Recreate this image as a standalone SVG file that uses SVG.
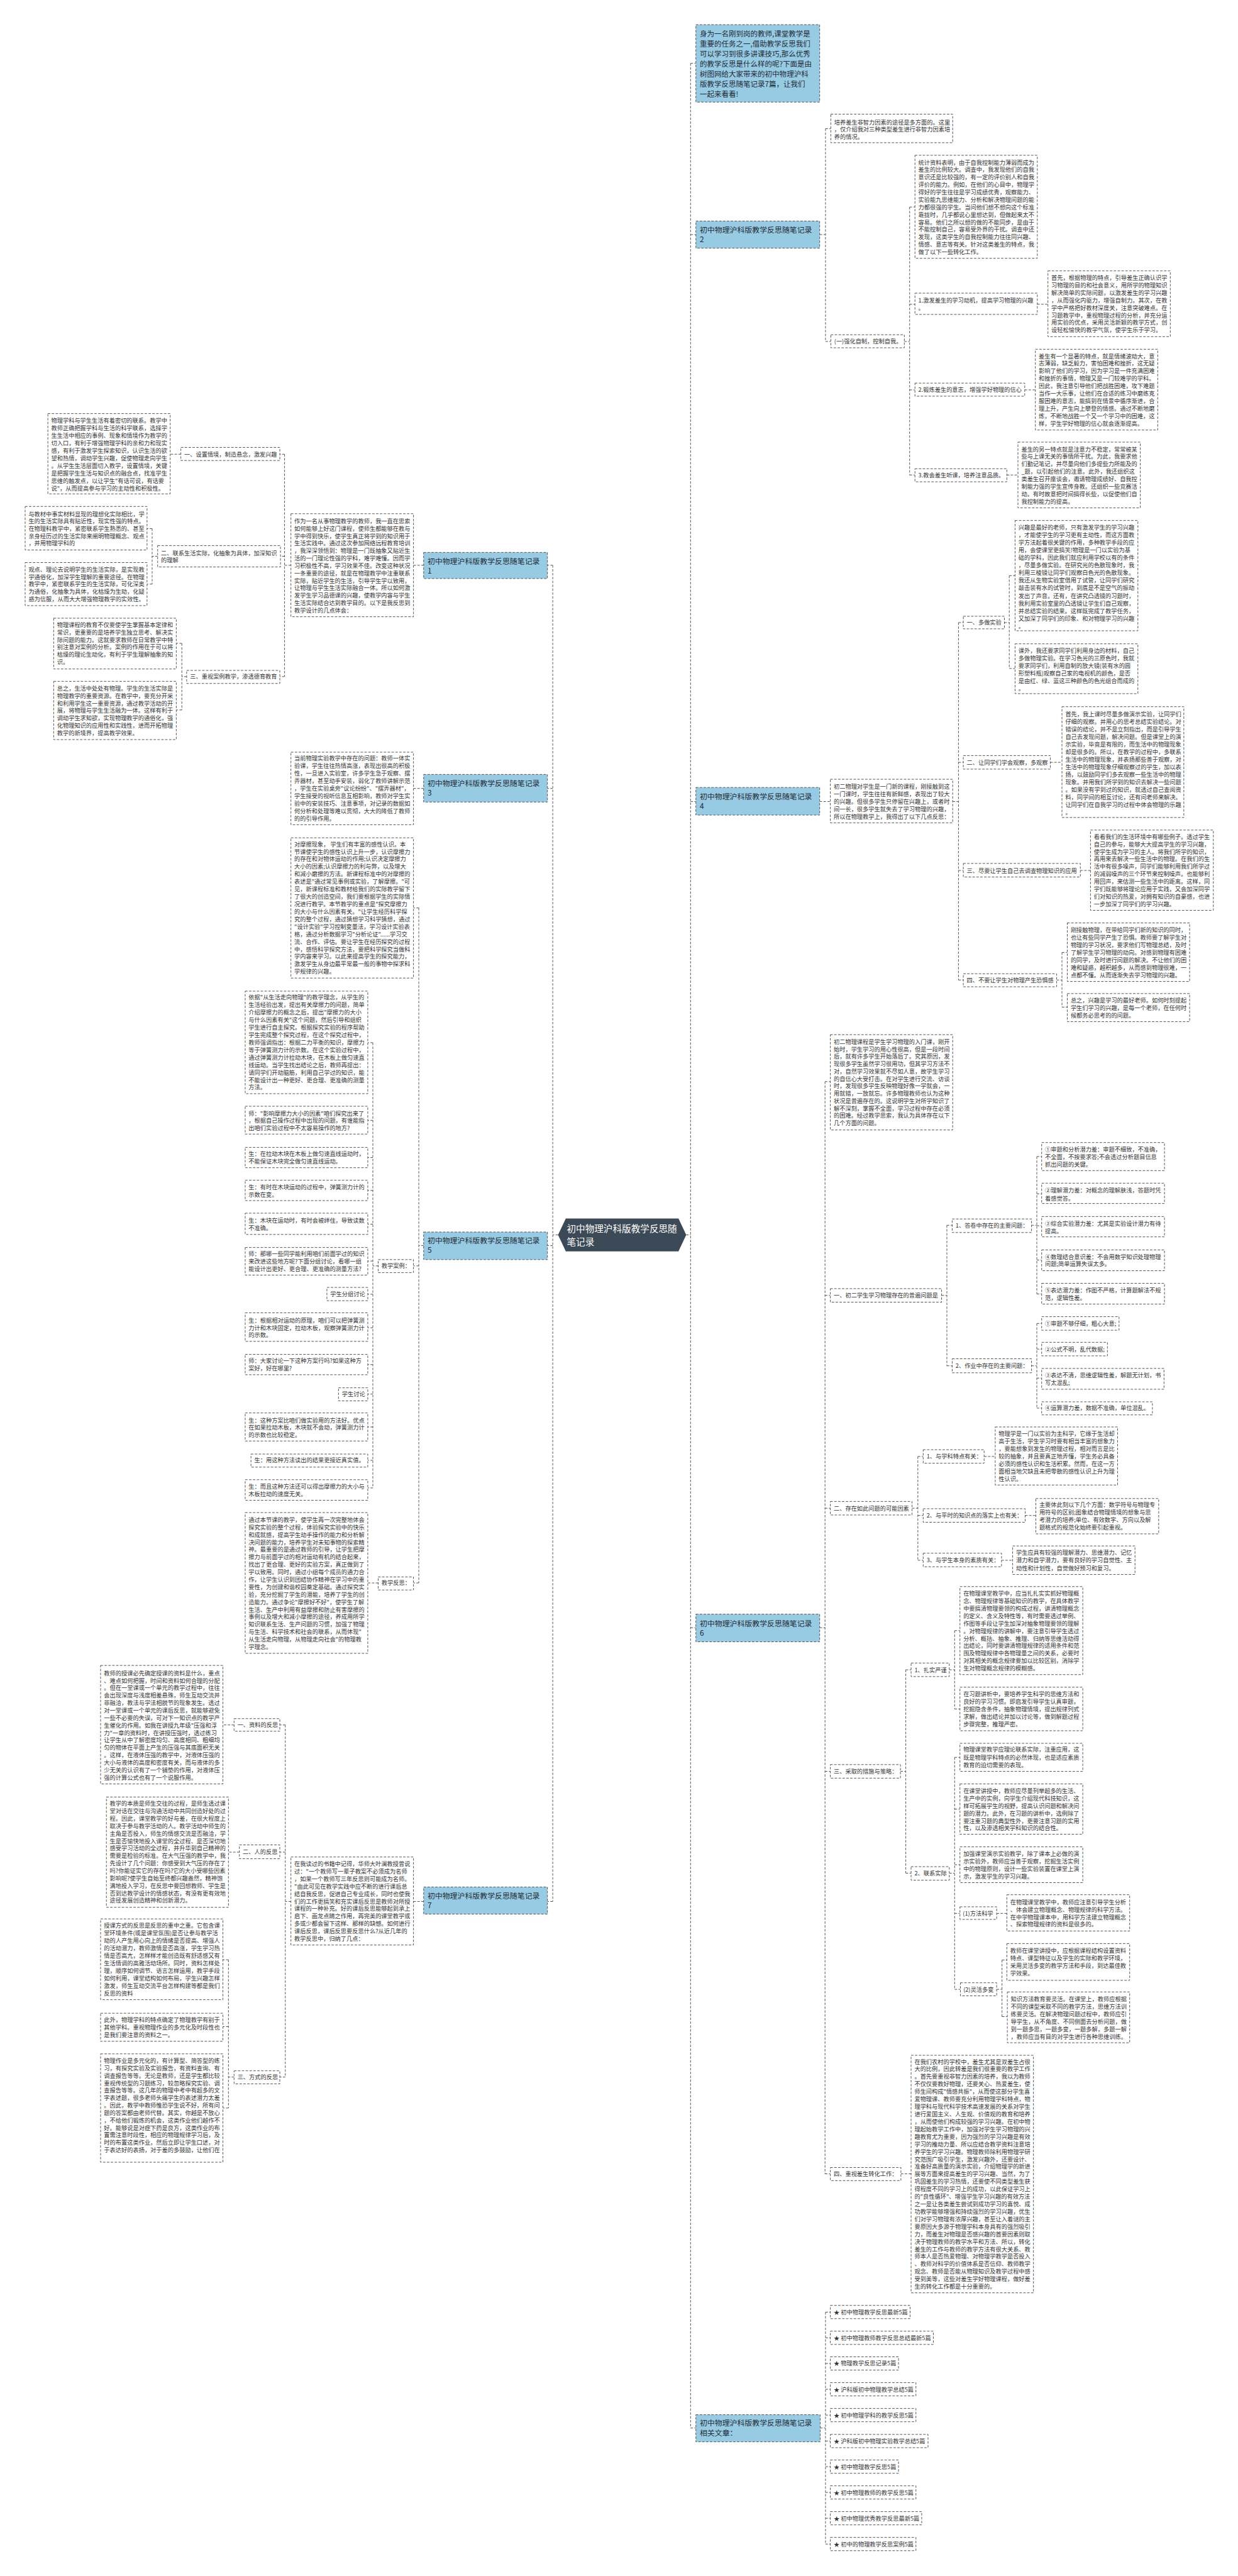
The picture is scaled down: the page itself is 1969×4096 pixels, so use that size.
<svg xmlns="http://www.w3.org/2000/svg" width="1969" height="4096" viewBox="0 0 1969 4096">
<style>
.r{fill:#fff;stroke:#555;stroke-width:1.3;stroke-dasharray:5 3}
.bl{fill:#97cbe3;stroke:#555;stroke-width:1.3;stroke-dasharray:5 3}
.t{font-family:"Noto Sans CJK SC","Noto Sans",sans-serif;font-size:12px;fill:#333}
.tb{font-family:"Noto Sans CJK SC","Noto Sans",sans-serif;font-size:15.5px;fill:#1f2a33}
.tc{font-family:"Noto Sans CJK SC","Noto Sans",sans-serif;font-size:19px;fill:#fff}
.cn path{fill:none;stroke:#555;stroke-width:1.3;stroke-dasharray:5 3}
</style>
<rect width="1969" height="4096" fill="#fff"/>
<g transform="scale(0.76914)">
<g class="cn" id="connectors">
<path d="M1419,2553H1428M1428,131V5019.5M1154,2553H1143M1143,1168.6V3931"/>
<path d="M1428,131H1439M1428,485H1439M1695,485H1707M1707,266V706M1707,266H1718M1707,706H1718M1870,706H1881M1881,428V982M1881,428H1892M1881,629H1892M1881,806H1892M1881,982H1892M2145,629H2167M2119,806H2141M2082,982H2105"/>
<path d="M1428,1657H1439M1695,1657H1717M1970,1657H1982M1982,1287V2026M1982,1287H1992M1982,1576H1992M1982,1799.5H1992M1982,2026H1992M2077,1287H2087M2087,1190V1382M2087,1190H2099M2087,1382H2099M2172,1576H2196M2234,1799.5H2255M2185,2026H2196M2196,1969V2082M2196,1969H2207M2196,2082H2207"/>
<path d="M1428,3365H1439M1695,3365H1706M1706,2236V4494M1706,2236H1717M1706,2678H1717M1706,3118H1717M1706,3662H1717M1706,4494H1717M1947,2678H1958M1958,2533V2823.6M1958,2533H1969M1958,2823.6H1969M2133,2533H2144M2144,2391V2675M2144,2391H2154M2144,2468H2154M2144,2534H2154M2144,2605H2154M2144,2675H2154M2133,2823.6H2144M2144,2736V2911M2144,2736H2154M2144,2789H2154M2144,2849H2154M2144,2911H2154"/>
<path d="M1886,3118H1898M1898,3011V3225.6M1898,3011H1909M1898,3133H1909M1898,3225.6H1909M2035,3011H2058M2120,3133H2142M2071,3225.6H2094M1862,3662H1873M1873,3452V3872.5M1873,3452H1884M1873,3872.5H1884M1963,3452H1974M1974,3371V3533M1974,3371H1985M1974,3533H1985M1963,3872.5H1974M1974,3633V4112.6M1974,3633H1985M1974,3740H1985M1974,3855H1985M1974,3955.6H1985M1974,4112.6H1986M2061,3955.6H2082M2061,4112.6H2072M2072,4052V4169M2072,4052H2082M2072,4169H2083M1863,4494H1884"/>
<path d="M1428,5019.5H1439M1696,5019.5H1707M1707,4780V5259.4M1707,4780H1717M1707,4833H1717M1707,4886H1717M1707,4939.4H1717M1707,4992.8H1717M1707,5046.4H1717M1707,5099.4H1717M1707,5152.7H1717M1707,5206H1717M1707,5259.4H1717"/>
<path d="M1143,1168.6H1132M876,1168.6H855M601.6,1168.6H588.4M588.4,939V1398.8M588.4,939H578.6M588.4,1150H580M588.4,1398.8H578.6M374,939H352M326,1150H314.6M314.6,1092.8V1207.6M314.6,1092.8H304M314.6,1207.6H304M386,1398.8H376M376,1330V1467.7M376,1330H364.5M376,1467.7H364.5"/>
<path d="M1143,1630H1132M876,1630H855"/>
<path d="M1143,2575H1132M876,2575H866M866,1877V3272.5M866,1877H855M866,2617H855M866,3272.5H855M782,2617H771M771,2155.6V3076M771,2155.6H760.5M771,2316H760.5M771,2393H760.5M771,2461H760.5M771,2530.7H760.5M771,2607H760.5M771,2675.5H760.5M771,2745H760.5M771,2821H760.5M771,2882H760.5M771,2950H760.5M771,3019H760.5M771,3076H760.5M782,3272.5H760.5"/>
<path d="M1143,3931H1132M876,3931H855M601.6,3931H590M590,3566V4294M590,3566H578.6M590,3829H578.6M590,4294H578.6M484,3566H461M495,3829H472.4M484,4294H472.4M472.4,4051.5V4358M472.4,4051.5H461M472.4,4189.7H461M472.4,4358H461"/>
</g>

<g id="center"><polygon points="1154,2553 1170,2519 1403,2519 1419,2553 1403,2587 1170,2587" fill="#3b4a56"/><text class="tc"><tspan x="1172" y="2547">初中物理沪科版教学反思随</tspan><tspan x="1172" y="2574">笔记录</tspan></text></g>

<g id="n_intro"><rect class="bl" x="1439" y="51" width="256" height="160"/><text class="tb" style="font-size:15px"><tspan x="1447" y="75.5">身为一名刚到岗的教师,课堂教学是</tspan><tspan x="1447" dy="20.8">重要的任务之一,借助教学反思我们</tspan><tspan x="1447" dy="20.8">可以学习到很多讲课技巧,那么优秀</tspan><tspan x="1447" dy="20.8">的教学反思是什么样的呢?下面是由</tspan><tspan x="1447" dy="20.8">树图网给大家带来的初中物理沪科</tspan><tspan x="1447" dy="20.8">版教学反思随笔记录7篇，让我们</tspan><tspan x="1447" dy="20.8">一起来看看!</tspan></text></g>

<g id="b2"><rect class="bl" x="1439" y="457" width="256" height="56"/><text class="tb"><tspan x="1447" y="481.7">初中物理沪科版教学反思随笔记录</tspan><tspan x="1447" dy="19.5">2</tspan></text></g>
<g id="n_r2a"><rect class="r" x="1718" y="236" width="252" height="59"/><text class="t"><tspan x="1725" y="257">培养差生非智力因素的途径是多方面的。这里</tspan><tspan x="1725" dy="15">，仅介绍我对三种类型差生进行非智力因素培</tspan><tspan x="1725" dy="15">养的情况。</tspan></text></g>
<g id="n_r2b"><rect class="r" x="1718" y="692" width="152" height="27"/><text class="t" x="1725" y="710.5">(一)强化自制，控制自我。</text></g>
<g id="n_r2b1"><rect class="r" x="1892" y="321" width="253" height="213"/><text class="t"><tspan x="1899" y="340">统计资料表明，由于自我控制能力薄弱而成为</tspan><tspan x="1899" dy="15.45">差生的比例较大。调查中，我发现他们的自我</tspan><tspan x="1899" dy="15.45">意识还是比较强的，有一定的评价别人和自我</tspan><tspan x="1899" dy="15.45">评价的能力。例如，在他们的心目中，物理学</tspan><tspan x="1899" dy="15.45">得好的学生往往是学习成绩优秀，观察能力、</tspan><tspan x="1899" dy="15.45">实验能九思维能力、分析和解决物理问题的能</tspan><tspan x="1899" dy="15.45">力都很强的学生。当问他们想不想向这个标准</tspan><tspan x="1899" dy="15.45">靠拢时，几乎都说心里想达到，但做起来太不</tspan><tspan x="1899" dy="15.45">容易。他们之所以想的做的不能同步，是由于</tspan><tspan x="1899" dy="15.45">不能控制自己，容易受外界的干扰。调查中还</tspan><tspan x="1899" dy="15.45">发现，这类学生的自我控制能力往往同兴趣、</tspan><tspan x="1899" dy="15.45">情感、意志等有关。针对这类差生的特点，我</tspan><tspan x="1899" dy="15.45">做了以下一些转化工作。</tspan></text></g>
<g id="n_r2b2"><rect class="r" x="1892" y="606" width="253" height="44"/><text class="t"><tspan x="1899" y="625.5">1.激发差生的学习动机，提高学习物理的兴趣</tspan><tspan x="1899" dy="16">。</tspan></text></g>
<g id="n_r2b2c"><rect class="r" x="2167" y="560" width="253" height="136"/><text class="t"><tspan x="2174" y="579">首先，根据物理的特点，引导差生正确认识学</tspan><tspan x="2174" dy="15.4">习物理的目的和社会意义，用所学的物理知识</tspan><tspan x="2174" dy="15.4">解决简单的实际问题，以激发差生的学习兴趣</tspan><tspan x="2174" dy="15.4">，从而强化内驱力，增强自制力。其次，在教</tspan><tspan x="2174" dy="15.4">学中严格把好教材深度关，注意突破难点。在</tspan><tspan x="2174" dy="15.4">习题教学中，重视物理过程的分析，并充分运</tspan><tspan x="2174" dy="15.4">用实验的优点，采用灵活新颖的教学方式，创</tspan><tspan x="2174" dy="15.4">设轻松愉快的教学气氛，使学生乐于学习。</tspan></text></g>
<g id="n_r2b3"><rect class="r" x="1892" y="792" width="227" height="27"/><text class="t" x="1899" y="810.5">2.锻炼差生的意志，增强学好物理的信心</text></g>
<g id="n_r2b3c"><rect class="r" x="2141" y="722" width="253" height="167"/><text class="t"><tspan x="2148" y="740.5">差生有一个显著的特点，就是情绪波动大，意</tspan><tspan x="2148" dy="15.5">志薄弱，缺乏毅力，害怕困难和挫折，这无疑</tspan><tspan x="2148" dy="15.5">影响了他们的学习，因为学习是一件充满困难</tspan><tspan x="2148" dy="15.5">和挫折的事情，物理又是一门较难学的学科。</tspan><tspan x="2148" dy="15.5">因此，我注意引导他们把战胜困难，攻下难题</tspan><tspan x="2148" dy="15.5">当作一大乐事，让他们在合适的练习中磨练克</tspan><tspan x="2148" dy="15.5">服困难的意志，能搞到在情景中循序渐进，合</tspan><tspan x="2148" dy="15.5">理上升，产生向上攀登的情感。通过不断地磨</tspan><tspan x="2148" dy="15.5">炼，不断地战胜一个又一个学习中的困难，这</tspan><tspan x="2148" dy="15.5">样，学生学好物理的信心就会逐渐提高。</tspan></text></g>
<g id="n_r2b4"><rect class="r" x="1892" y="969" width="190" height="27"/><text class="t" x="1899" y="986.5">3.教会差生听课，培养注意品质。</text></g>
<g id="n_r2b4c"><rect class="r" x="2105" y="914" width="253" height="136"/><text class="t"><tspan x="2112" y="933">差生的另一特点就是注意力不稳定，常常被某</tspan><tspan x="2112" dy="15.4">些与上课无关的事情所干扰。为此，我要求他</tspan><tspan x="2112" dy="15.4">们勤记笔记，并尽量向他们多提些力所能及的</tspan><tspan x="2112" dy="15.4">_题，以引起他们的注意。此外，我还组织这</tspan><tspan x="2112" dy="15.4">类差生召开座谈会，邀请物理成绩好、自我控</tspan><tspan x="2112" dy="15.4">制能力强的学生宣传身教。还组织一些竞赛活</tspan><tspan x="2112" dy="15.4">动。有时故意把时间搞得长些，以促使他们自</tspan><tspan x="2112" dy="15.4">我控制能力的提高。</tspan></text></g>

<g id="b4"><rect class="bl" x="1439" y="1628" width="256" height="57"/><text class="tb"><tspan x="1447" y="1652.7">初中物理沪科版教学反思随笔记录</tspan><tspan x="1447" dy="19.5">4</tspan></text></g>
<g id="n_r4p"><rect class="r" x="1717" y="1611" width="253" height="90"/><text class="t"><tspan x="1724" y="1630.5">初二物理对学生是一门新的课程，刚接触到这</tspan><tspan x="1724" dy="15.7">一门课时，学生往往有新鲜感，表现出了较大</tspan><tspan x="1724" dy="15.7">的兴趣。但很多学生只停留在兴趣上，或者时</tspan><tspan x="1724" dy="15.7">间一长，很多学生就失去了学习物理的兴趣，</tspan><tspan x="1724" dy="15.7">所以在物理教学上，我得出了以下几点反思：</tspan></text></g>
<g id="n_r4_1"><rect class="r" x="1992" y="1274" width="85" height="26"/><text class="t" x="1999" y="1291.5">一、多做实验</text></g>
<g id="n_r4_1a"><rect class="r" x="2099" y="1076" width="254" height="228"/><text class="t"><tspan x="2106" y="1094.5">兴趣是最好的老师，只有激发学生的学习兴趣</tspan><tspan x="2106" dy="15.7">，才能使学生的学习更有主动性，而这方面教</tspan><tspan x="2106" dy="15.7">学方法起着很关键的作用，多种教学手段的应</tspan><tspan x="2106" dy="15.7">用，会使课堂更搞笑!物理是一门以实验为基</tspan><tspan x="2106" dy="15.7">础的学科，因此我们就应利用学校以有的条件</tspan><tspan x="2106" dy="15.7">，尽量多做实验。在研究光的色散现象时，我</tspan><tspan x="2106" dy="15.7">利用三棱镜让同学们观察白色光的色散现象。</tspan><tspan x="2106" dy="15.7">我还从生物实验室借用了试管，让同学们研究</tspan><tspan x="2106" dy="15.7">敲击装有水的试管时，到底是不是空气的振动</tspan><tspan x="2106" dy="15.7">发出了声音。还有，在讲究凸透镜的习题时，</tspan><tspan x="2106" dy="15.7">我利用实验室里的凸透镜让学生们自己观察，</tspan><tspan x="2106" dy="15.7">并总结实验的结果。这样既完成了教学任务，</tspan><tspan x="2106" dy="15.7">又加深了同学们的印象、和对物理学习的兴趣</tspan><tspan x="2106" dy="15.7">。</tspan></text></g>
<g id="n_r4_1b"><rect class="r" x="2099" y="1331" width="254" height="103"/><text class="t"><tspan x="2106" y="1350">课外，我还要求同学们利用身边的材料，自己</tspan><tspan x="2106" dy="15.5">多做物理实验。在学习色光的三原色时，我就</tspan><tspan x="2106" dy="15.5">要求同学们，利用自制的放大镜(装有水的圆</tspan><tspan x="2106" dy="15.5">形塑料瓶)观察自己家的电视机的颜色，是否</tspan><tspan x="2106" dy="15.5">是由红、绿、蓝这三种颜色的色光组合而成的</tspan><tspan x="2106" dy="15.5">。</tspan></text></g>
<g id="n_r4_2"><rect class="r" x="1992" y="1562" width="180" height="28"/><text class="t" x="1999" y="1580.5">二、让同学们学会观察，多观察</text></g>
<g id="n_r4_2a"><rect class="r" x="2196" y="1461" width="252" height="229"/><text class="t"><tspan x="2203" y="1480.5">首先，我上课时尽量多做演示实验，让同学们</tspan><tspan x="2203" dy="15.6">仔细的观察。并用心的思考总结实验结论。对</tspan><tspan x="2203" dy="15.6">错误的结论，并不是立刻指出，而是引导学生</tspan><tspan x="2203" dy="15.6">自己去发现问题，解决问题。但是课堂上的演</tspan><tspan x="2203" dy="15.6">示实验，毕竟是有限的，而生活中的物理现象</tspan><tspan x="2203" dy="15.6">却是很多的。所以，在教学的过程中，多联系</tspan><tspan x="2203" dy="15.6">生活中的物理现象，并表扬那些善于观察，对</tspan><tspan x="2203" dy="15.6">生活中的物理现象仔细观察过的学生，加以表</tspan><tspan x="2203" dy="15.6">扬，以鼓励同学们多去观察一些生活中的物理</tspan><tspan x="2203" dy="15.6">现象。并用我们所学到的知识去解决一些问题</tspan><tspan x="2203" dy="15.6">。如果没有学到过的知识，就透过自己查阅资</tspan><tspan x="2203" dy="15.6">料，同学间的相互讨论，还有问老师来解决。</tspan><tspan x="2203" dy="15.6">让同学们在自我学习的过程中体会物理的乐趣</tspan><tspan x="2203" dy="15.6">。</tspan></text></g>
<g id="n_r4_3"><rect class="r" x="1992" y="1785" width="242" height="28"/><text class="t" x="1999" y="1804">三、尽要让学生自己去调查物理知识的应用</text></g>
<g id="n_r4_3a"><rect class="r" x="2255" y="1716" width="254" height="166"/><text class="t"><tspan x="2262" y="1734">看看我们的生活环境中有哪些例子。透过学生</tspan><tspan x="2262" dy="15.5">自己的参与，能够大大提高学生的学习兴趣，</tspan><tspan x="2262" dy="15.5">使学生成为学习的主人。将我们所学的知识，</tspan><tspan x="2262" dy="15.5">再用来去解决一些生活中的物理。在我们的生</tspan><tspan x="2262" dy="15.5">活中有很多噪声，同学们能够利用我们所学过</tspan><tspan x="2262" dy="15.5">的减弱噪声的三个环节来控制噪声。也能够利</tspan><tspan x="2262" dy="15.5">用回声，来估测一些生活中的距离。这样，同</tspan><tspan x="2262" dy="15.5">学们既能够将理论应用于实践，又会加深同学</tspan><tspan x="2262" dy="15.5">们对知识的热爱，对拥有知识的自豪感，也进</tspan><tspan x="2262" dy="15.5">一步加深了同学们的学习兴趣。</tspan></text></g>
<g id="n_r4_4"><rect class="r" x="1992" y="2013" width="193" height="27"/><text class="t" x="1999" y="2030.5">四、不要让学生对物理产生恐惧感</text></g>
<g id="n_r4_4a"><rect class="r" x="2207" y="1908" width="253" height="121"/><text class="t"><tspan x="2214" y="1926.5">刚接触物理，在带给同学们新的知识的同时，</tspan><tspan x="2214" dy="15.6">也让有些同学产生了恐惧。教师要了解学生对</tspan><tspan x="2214" dy="15.6">物理的学习状况，要求他们写物理总结，及时</tspan><tspan x="2214" dy="15.6">了解学生学习物理的动向。对感到物理有困难</tspan><tspan x="2214" dy="15.6">的同学，及时进行问题的解决。不让他们的困</tspan><tspan x="2214" dy="15.6">难和疑惑，越积越多，从而感到物理很难，一</tspan><tspan x="2214" dy="15.6">点都不懂。从而逐渐失去学习物理的兴趣。</tspan></text></g>
<g id="n_r4_4b"><rect class="r" x="2207" y="2054" width="253" height="58"/><text class="t"><tspan x="2214" y="2073">总之，兴趣是学习的最好老师。如何时刻提起</tspan><tspan x="2214" dy="15.3">学生们学习的兴趣，是每一个老师，在任何时</tspan><tspan x="2214" dy="15.3">候都务必思考的的问题。</tspan></text></g>

<g id="b6"><rect class="bl" x="1439" y="3337" width="256" height="57"/><text class="tb"><tspan x="1447" y="3361.7">初中物理沪科版教学反思随笔记录</tspan><tspan x="1447" dy="19.5">6</tspan></text></g>
<g id="n_r6p"><rect class="r" x="1717" y="2139" width="253" height="197"/><text class="t"><tspan x="1724" y="2158">初二物理课程是学生学习物理的入门课，刚开</tspan><tspan x="1724" dy="15.3">始时，学生学习的用心性很高，但是一段时间</tspan><tspan x="1724" dy="15.3">后，就有许多学生开始落后了。究其原因，发</tspan><tspan x="1724" dy="15.3">现很多学生虽然学习很用功，但其学习方法不</tspan><tspan x="1724" dy="15.3">对，自然学习效果就不尽如人意，故学生学习</tspan><tspan x="1724" dy="15.3">的自信心大受打击。在对学生进行交流、访谈</tspan><tspan x="1724" dy="15.3">时，发现很多学生反映物理好像一学就会，一</tspan><tspan x="1724" dy="15.3">用就错，一放就忘。许多物理教师也认为这种</tspan><tspan x="1724" dy="15.3">状况是普遍存在的。这说明学生对所学知识了</tspan><tspan x="1724" dy="15.3">解不深刻，掌握不全面，学习过程中存在必须</tspan><tspan x="1724" dy="15.3">的困难。经过教学思索，我认为具体存在以下</tspan><tspan x="1724" dy="15.3">几个方面的问题。</tspan></text></g>
<g id="n_r6_1"><rect class="r" x="1717" y="2664" width="230" height="28"/><text class="t" x="1724" y="2682.5">一、初二学生学习物理存在的普遍问题是</text></g>
<g id="n_r6_1_1"><rect class="r" x="1969" y="2520" width="164" height="28"/><text class="t" x="1976" y="2537.5">1、答卷中存在的主要问题：</text></g>
<g id="n_q1"><rect class="r" x="2154" y="2362" width="254" height="58"/><text class="t"><tspan x="2161" y="2381">①审题和分析潜力差：审题不细致，不准确，</tspan><tspan x="2161" dy="15.2">不全面，不按要求答;不会透过分析题目信息</tspan><tspan x="2161" dy="15.2">抓出问题的关键。</tspan></text></g>
<g id="n_q2"><rect class="r" x="2154" y="2446" width="254" height="42"/><text class="t"><tspan x="2161" y="2465.5">②理解潜力差：对概念的理解肤浅，答题时凭</tspan><tspan x="2161" dy="16">着感觉答。</tspan></text></g>
<g id="n_q3"><rect class="r" x="2154" y="2515" width="254" height="42"/><text class="t"><tspan x="2161" y="2534">③综合实验潜力差：尤其是实验设计潜力有待</tspan><tspan x="2161" dy="15.3">提高。</tspan></text></g>
<g id="n_q4"><rect class="r" x="2154" y="2584" width="254" height="43"/><text class="t"><tspan x="2161" y="2602.5">④数理结合意识差：不会用数学知识处理物理</tspan><tspan x="2161" dy="15">问题;简单运算失误太多。</tspan></text></g>
<g id="n_q5"><rect class="r" x="2154" y="2653" width="254" height="43"/><text class="t"><tspan x="2161" y="2671.5">⑤表达潜力差：作图不严格，计算题解法不规</tspan><tspan x="2161" dy="15.5">范，逻辑性差。</tspan></text></g>
<g id="n_r6_1_2"><rect class="r" x="1969" y="2809" width="164" height="29"/><text class="t" x="1976" y="2828">2、作业中存在的主要问题：</text></g>
<g id="n_w1"><rect class="r" x="2154" y="2722" width="160" height="28"/><text class="t" x="2161" y="2740.5">①审题不够仔细，粗心大意;</text></g>
<g id="n_w2"><rect class="r" x="2154" y="2775" width="136" height="28"/><text class="t" x="2161" y="2793.5">②公式不明，乱代数据;</text></g>
<g id="n_w3"><rect class="r" x="2154" y="2829" width="253" height="43"/><text class="t"><tspan x="2161" y="2847">③表达不清，思维逻辑性差，解题无计划，书</tspan><tspan x="2161" dy="15.5">写太混乱;</tspan></text></g>
<g id="n_w4"><rect class="r" x="2154" y="2898" width="229" height="27"/><text class="t" x="2161" y="2915.5">④运算潜力差，数据不准确，单位混乱。</text></g>
<g id="n_r6_2"><rect class="r" x="1717" y="3104" width="169" height="28"/><text class="t" x="1724" y="3122.5">二、存在如此问题的可能因素</text></g>
<g id="n_f1"><rect class="r" x="1909" y="2997" width="126" height="28"/><text class="t" x="1916" y="3015.5">1、与学科特点有关：</text></g>
<g id="n_f1c"><rect class="r" x="2058" y="2950" width="253" height="120"/><text class="t"><tspan x="2065" y="2968.5">物理学是一门以实验为主科学，它缘于生活却</tspan><tspan x="2065" dy="15.5">高于生活，学生学习时要有相当丰富的想象力</tspan><tspan x="2065" dy="15.5">，要能想象到发生的物理过程，相对而言是比</tspan><tspan x="2065" dy="15.5">较的抽象，并且要真正地弄懂，学生务必具备</tspan><tspan x="2065" dy="15.5">必须的感性认识和生活积累。然而，在这一方</tspan><tspan x="2065" dy="15.5">面相当地欠缺且未把零散的感性认识上升为理</tspan><tspan x="2065" dy="15.5">性认识。</tspan></text></g>
<g id="n_f2"><rect class="r" x="1909" y="3119" width="211" height="28"/><text class="t" x="1916" y="3137.5">2、与平时的知识点的落实上也有关：</text></g>
<g id="n_f2c"><rect class="r" x="2142" y="3098" width="254" height="73"/><text class="t"><tspan x="2149" y="3115.5">主要体此刻以下几个方面：数学符号与物理专</tspan><tspan x="2149" dy="15.3">用符号的区别;图象结合物理情境的想象与思</tspan><tspan x="2149" dy="15.3">考潜力的培养;单位、有效数字、方向以及解</tspan><tspan x="2149" dy="15.3">题格式的规范化始终要引起重视。</tspan></text></g>
<g id="n_f3"><rect class="r" x="1909" y="3211" width="162" height="28"/><text class="t" x="1916" y="3230">3、与学生本身的素质有关：</text></g>
<g id="n_f3c"><rect class="r" x="2094" y="3196" width="253" height="59"/><text class="t"><tspan x="2101" y="3214.5">学生应具有较强的理解潜力、思维潜力、记忆</tspan><tspan x="2101" dy="15.7">潜力和自学潜力，要有良好的学习自觉性、主</tspan><tspan x="2101" dy="15.7">动性和计划性，自觉做好预习和复习。</tspan></text></g>
<g id="n_r6_3"><rect class="r" x="1717" y="3648" width="145" height="28"/><text class="t" x="1724" y="3666.5">三、采取的措施与策略：</text></g>
<g id="n_s1"><rect class="r" x="1884" y="3438" width="79" height="28"/><text class="t" x="1891" y="3456.5">1、扎实严谨</text></g>
<g id="n_s1a"><rect class="r" x="1985" y="3280" width="254" height="182"/><text class="t"><tspan x="1992" y="3298.5">在物理课堂教学中，应当扎扎实实抓好物理概</tspan><tspan x="1992" dy="15.5">念、物理规律等基础知识的教学，在具体教学</tspan><tspan x="1992" dy="15.5">中要搞清物理要领的构成过程，讲清物理概念</tspan><tspan x="1992" dy="15.5">的定义、含义及特性等，有时需要透过举例、</tspan><tspan x="1992" dy="15.5">作图等手段让学生加深对抽象物理要领的理解</tspan><tspan x="1992" dy="15.5">。对物理规律的讲解中，要注意引导学生透过</tspan><tspan x="1992" dy="15.5">分析、概括、抽象、推理、归纳等思维活动得</tspan><tspan x="1992" dy="15.5">出结论，同时要讲清物理规律的适用条件和范</tspan><tspan x="1992" dy="15.5">围及物理规律中各物理量之间的关系，必要时</tspan><tspan x="1992" dy="15.5">对其相关的概念规律要加以比较区别，消除学</tspan><tspan x="1992" dy="15.5">生对物理概念规律的模糊感。</tspan></text></g>
<g id="n_s1b"><rect class="r" x="1985" y="3488" width="254" height="90"/><text class="t"><tspan x="1992" y="3507">在习题讲析中，要培养学生科学的思维方法和</tspan><tspan x="1992" dy="15.4">良好的学习习惯。即启发引导学生认真审题，</tspan><tspan x="1992" dy="15.4">挖掘隐含条件，抽象物理情境，提出规律列式</tspan><tspan x="1992" dy="15.4">求解，做出结论并加以讨论等，做到解题过程</tspan><tspan x="1992" dy="15.4">步骤完整，推理严密。</tspan></text></g>
<g id="n_s2"><rect class="r" x="1884" y="3859" width="79" height="28"/><text class="t" x="1891" y="3877">2、联系实际</text></g>
<g id="n_s2a"><rect class="r" x="1985" y="3604" width="254" height="58"/><text class="t"><tspan x="1992" y="3621.5">物理课堂教学应理论联系实际，注重应用，这</tspan><tspan x="1992" dy="16">既是物理学科特点的必然体现，也是适应素质</tspan><tspan x="1992" dy="16">教育的迫切需要的表现。</tspan></text></g>
<g id="n_s2b"><rect class="r" x="1985" y="3688" width="254" height="104"/><text class="t"><tspan x="1992" y="3706.5">在课堂讲授中，教师应尽量列举超多的生活、</tspan><tspan x="1992" dy="15.5">生产中的实例，向学生介绍现代科技知识，这</tspan><tspan x="1992" dy="15.5">样可拓展学生的视野，提高认识问题和解决问</tspan><tspan x="1992" dy="15.5">题的潜力。此外，在习题的讲析中，选例除了</tspan><tspan x="1992" dy="15.5">要注重习题的典型性外，更要注意习题的实用</tspan><tspan x="1992" dy="15.5">性，以及渗透相关学科知识的结合性。</tspan></text></g>
<g id="n_s2c"><rect class="r" x="1985" y="3818" width="254" height="74"/><text class="t"><tspan x="1992" y="3837">加强课堂演示实验教学，除了课本上必做的演</tspan><tspan x="1992" dy="15.4">示实验外，教师应当善于观察，挖掘生活实例</tspan><tspan x="1992" dy="15.4">中的物理原则，设计一些实验装置在课堂上演</tspan><tspan x="1992" dy="15.4">示，激发学生的学习兴趣。</tspan></text></g>
<g id="n_s2d"><rect class="r" x="1985" y="3942" width="76" height="26"/><text class="t" x="1991" y="3960">(1)方法科学</text></g>
<g id="n_s2dc"><rect class="r" x="2082" y="3917" width="254" height="75"/><text class="t"><tspan x="2089" y="3937">在物理课堂教学中，教师应注意引导学生分析</tspan><tspan x="2089" dy="15.3">、体会建立物理概念、物理规律的科学方法。</tspan><tspan x="2089" dy="15.3">在中学物理课本中，用科学方法建立物理概念</tspan><tspan x="2089" dy="15.3">、探索物理规律的资料是很多的。</tspan></text></g>
<g id="n_s2e"><rect class="r" x="1986" y="4099" width="75" height="27"/><text class="t" x="1992" y="4117">(2)灵活多变</text></g>
<g id="n_s2e1"><rect class="r" x="2082" y="4018" width="254" height="76"/><text class="t"><tspan x="2089" y="4037.5">教师在课堂讲授中，应根据课程结构设置资料</tspan><tspan x="2089" dy="15.3">特点、课型特征以及学生的实际和教学环境，</tspan><tspan x="2089" dy="15.3">采用灵活多变的教学方法和手段，到达最佳教</tspan><tspan x="2089" dy="15.3">学效果。</tspan></text></g>
<g id="n_s2e2"><rect class="r" x="2083" y="4118" width="253" height="105"/><text class="t"><tspan x="2090" y="4136.5">知识方法教育要灵活。在课堂上，教师应根据</tspan><tspan x="2090" dy="15.6">不同的课型采取不同的教学方法，思维方法训</tspan><tspan x="2090" dy="15.6">练要灵活。在解决物理问题过程中，教师应引</tspan><tspan x="2090" dy="15.6">导学生，从不角度、不同侧面去分析问题，做</tspan><tspan x="2090" dy="15.6">到一题多思，一题多变，一题多解，多题一解</tspan><tspan x="2090" dy="15.6">，教师应当有目的对学生进行各种思维训练。</tspan></text></g>
<g id="n_r6_4"><rect class="r" x="1717" y="4481" width="146" height="27"/><text class="t" x="1724" y="4498.5">四、重视差生转化工作：</text></g>
<g id="n_r6_4c"><rect class="r" x="1884" y="4249" width="253" height="491"/><text class="t"><tspan x="1891" y="4266.5">在我们农村的学校中，差生尤其是双差生占很</tspan><tspan x="1891" dy="15.5">大的比例，因此转差是我们很重要的教学工作</tspan><tspan x="1891" dy="15.5">。首先要重视非智力因素的培养，我以为教师</tspan><tspan x="1891" dy="15.5">不仅仅要教好物理，还要关心、热爱差生，使</tspan><tspan x="1891" dy="15.5">师生间构成"情感共振"，从而使这部分学生喜</tspan><tspan x="1891" dy="15.5">爱物理课、教师要充分利用物理学科特点，物</tspan><tspan x="1891" dy="15.5">理学科与现代科学技术高速发展的关系对学生</tspan><tspan x="1891" dy="15.5">进行爱国主义、人生观、价值观的教育和培养</tspan><tspan x="1891" dy="15.5">，从而使他们构成较强的学习兴趣。在初中物</tspan><tspan x="1891" dy="15.5">理起始教学工作中，加强对学生学习物理的兴</tspan><tspan x="1891" dy="15.5">趣教育尤为重要，因为强烈的学习兴趣是有效</tspan><tspan x="1891" dy="15.5">学习的推动力量、所以应结合教学资料注意培</tspan><tspan x="1891" dy="15.5">养学生的学习兴趣。物理教师除利用物理学研</tspan><tspan x="1891" dy="15.5">究范围广吸引学生，激发兴趣外，还要设计、</tspan><tspan x="1891" dy="15.5">准备好高质量的演示实验，介绍物理学的新进</tspan><tspan x="1891" dy="15.5">展等方面来提高差生的学习兴趣、当然，为了</tspan><tspan x="1891" dy="15.5">巩固差生的学习热情，还要使不同类型差生获</tspan><tspan x="1891" dy="15.5">得程度不同的学习上的成功，以此保证学习上</tspan><tspan x="1891" dy="15.5">的"良性循环"、增强学生学习兴趣的有效方法</tspan><tspan x="1891" dy="15.5">之一是让各类差生尝试到成功学习的喜悦、成</tspan><tspan x="1891" dy="15.5">功教学能够增强和持续强烈的学习兴趣，优生</tspan><tspan x="1891" dy="15.5">们对学习物理有浓厚兴趣，甚至让入着谜的主</tspan><tspan x="1891" dy="15.5">要原因大多源于物理学科本身具有的强烈吸引</tspan><tspan x="1891" dy="15.5">力，而差生对物理是否感兴趣的首要因素则取</tspan><tspan x="1891" dy="15.5">决于物理教师的教学水平和方法、所以，转化</tspan><tspan x="1891" dy="15.5">差生的工作与教师的教学方法有很大关系、教</tspan><tspan x="1891" dy="15.5">师本人是否热爱物理、对物理学教学是否投入</tspan><tspan x="1891" dy="15.5">、教师对科学的价值体系是否信仰、教师教学</tspan><tspan x="1891" dy="15.5">观念、教师是否能从物理知识及教学过程中感</tspan><tspan x="1891" dy="15.5">受到美等，这些对差生学好物理课程，做好差</tspan><tspan x="1891" dy="15.5">生的转化工作都是十分重要的。</tspan></text></g>

<g id="b8"><rect class="bl" x="1439" y="4992" width="257" height="56"/><text class="tb"><tspan x="1447" y="5014.3">初中物理沪科版教学反思随笔记录</tspan><tspan x="1447" dy="21">相关文章：</tspan></text></g>
<g id="a1"><rect class="r" x="1717" y="4766" width="165" height="27.4"/><text class="t" x="1724" y="4784.3">★ 初中物理教学反思最新5篇</text></g>
<g id="a2"><rect class="r" x="1717" y="4819.3" width="213" height="27.4"/><text class="t" x="1724" y="4837.5">★ 初中物理教师教学反思总结最新5篇</text></g>
<g id="a3"><rect class="r" x="1717" y="4872.3" width="141" height="27.4"/><text class="t" x="1724" y="4890.5">★ 物理教学反思记录5篇</text></g>
<g id="a4"><rect class="r" x="1717" y="4925.7" width="177" height="27.4"/><text class="t" x="1724" y="4943.9">★ 沪科版初中物理教学总结5篇</text></g>
<g id="a5"><rect class="r" x="1717" y="4979.1" width="177" height="27.4"/><text class="t" x="1724" y="4997.3">★ 初中物理学科的教学反思5篇</text></g>
<g id="a6"><rect class="r" x="1717" y="5032.7" width="202" height="27.4"/><text class="t" x="1724" y="5050.9">★ 沪科版初中物理实验教学总结5篇</text></g>
<g id="a7"><rect class="r" x="1717" y="5085.7" width="141" height="27.4"/><text class="t" x="1724" y="5103.9">★ 初中物理教学反思5篇</text></g>
<g id="a8"><rect class="r" x="1717" y="5139" width="177" height="27.4"/><text class="t" x="1724" y="5157.2">★ 初中物理教师的教学反思5篇</text></g>
<g id="a9"><rect class="r" x="1717" y="5192.3" width="189" height="27.4"/><text class="t" x="1724" y="5210.5">★ 初中物理优秀教学反思最新5篇</text></g>
<g id="a10"><rect class="r" x="1717" y="5245.7" width="177" height="27.4"/><text class="t" x="1724" y="5263.9">★ 初中的物理教学反思案例5篇</text></g>

<g id="b1"><rect class="bl" x="876" y="1142" width="256" height="54"/><text class="tb"><tspan x="884" y="1165.7">初中物理沪科版教学反思随笔记录</tspan><tspan x="884" dy="19.5">1</tspan></text></g>
<g id="n_l1p"><rect class="r" x="601.6" y="1062" width="253.4" height="213"/><text class="t"><tspan x="608.6" y="1081.5">作为一名从事物理教学的教师，我一直在思索</tspan><tspan x="608.6" dy="15.4">如何能够上好这门课程，使师生都能够在教与</tspan><tspan x="608.6" dy="15.4">学中得到快乐，使学生真正将学到的知识用于</tspan><tspan x="608.6" dy="15.4">生活实践中。通过这次参加网络远程教育培训</tspan><tspan x="608.6" dy="15.4">，我深深领悟到：物理是一门既抽象又贴近生</tspan><tspan x="608.6" dy="15.4">活的一门理论性强的学科，难学难懂。因而学</tspan><tspan x="608.6" dy="15.4">习积极性不高，学习效果不佳。改变这种状况</tspan><tspan x="608.6" dy="15.4">一条重要的途径，就是在物理教学中注重联系</tspan><tspan x="608.6" dy="15.4">实际，贴近学生的生活，引导学生学以致用，</tspan><tspan x="608.6" dy="15.4">让物理与学生生活实际融合一体。所以如何激</tspan><tspan x="608.6" dy="15.4">发学生学习品德课的兴趣，使教学内容与学生</tspan><tspan x="608.6" dy="15.4">生活实际结合达到教学目的。以下是我反思到</tspan><tspan x="608.6" dy="15.4">教学设计的几点体会：</tspan></text></g>
<g id="n_l1_1"><rect class="r" x="374" y="925" width="204.6" height="27"/><text class="t" x="381" y="943.5">一、设置情境，制造悬念，激发兴趣</text></g>
<g id="n_l1_1c"><rect class="r" x="99" y="855" width="253" height="166"/><text class="t"><tspan x="106" y="873.5">物理学科与学生生活有着密切的联系。教学中</tspan><tspan x="106" dy="15.56">教师正确把握学科与生活的科学联系，选择学</tspan><tspan x="106" dy="15.56">生生活中相应的事例、现象和情境作为教学的</tspan><tspan x="106" dy="15.56">切入口，有利于增强物理学科的亲和力和现实</tspan><tspan x="106" dy="15.56">感，有利于激发学生探索知识，认识生活的欲</tspan><tspan x="106" dy="15.56">望和热情，调动学生兴趣，促使物理走向学生</tspan><tspan x="106" dy="15.56">。从学生生活层面切入教学，设置情境，关键</tspan><tspan x="106" dy="15.56">是把握学生生活与知识点的融合点，找准学生</tspan><tspan x="106" dy="15.56">思维的触发点，以让学生"有话可说，有话要</tspan><tspan x="106" dy="15.56">说"，从而提高参与学习的主动性和积极性。</tspan></text></g>
<g id="n_l1_2"><rect class="r" x="326" y="1128" width="254" height="44"/><text class="t"><tspan x="333" y="1147.5">二、联系生活实际，化抽象为具体，加深知识</tspan><tspan x="333" dy="15">的理解</tspan></text></g>
<g id="n_l1_2a"><rect class="r" x="52" y="1047" width="252" height="90"/><text class="t"><tspan x="59" y="1067">与教材中事实材料显现的理想化实际相比，学</tspan><tspan x="59" dy="15.2">生的生活实际具有贴近性，现实性强的特点。</tspan><tspan x="59" dy="15.2">在物理科教学中，紧密联系学生熟悉的、甚至</tspan><tspan x="59" dy="15.2">亲身经历过的生活实际来阐明物理概念、观点</tspan><tspan x="59" dy="15.2">，并用物理学科的</tspan></text></g>
<g id="n_l1_2b"><rect class="r" x="52" y="1163" width="252" height="89"/><text class="t"><tspan x="59" y="1181.5">观点、理论去说明学生的生活实际，是实现教</tspan><tspan x="59" dy="15.4">学通俗化，加深学生理解的重要途径。在物理</tspan><tspan x="59" dy="15.4">教学中，紧密联系学生的生活实际，可化深奥</tspan><tspan x="59" dy="15.4">为通俗，化抽象为具体，化枯燥为生动，化疑</tspan><tspan x="59" dy="15.4">惑为信服，从而大大增强物理教学的实效性。</tspan></text></g>
<g id="n_l1_3"><rect class="r" x="386" y="1386" width="192.6" height="27"/><text class="t" x="393" y="1403.5">三、重视案例教学，渗透德育教育</text></g>
<g id="n_l1_3a"><rect class="r" x="111" y="1278" width="253.5" height="105"/><text class="t"><tspan x="118" y="1296.5">物理课程的教育不仅要使学生掌握基本定律和</tspan><tspan x="118" dy="15.25">常识，更重要的是培养学生独立思考、解决实</tspan><tspan x="118" dy="15.25">际问题的能力。这就要求教师在日常教学中特</tspan><tspan x="118" dy="15.25">别注意对案例的分析。案例的作用在于可以将</tspan><tspan x="118" dy="15.25">枯燥的理论生动化，有利于学生理解抽象的知</tspan><tspan x="118" dy="15.25">识。</tspan></text></g>
<g id="n_l1_3b"><rect class="r" x="111" y="1408.5" width="253.5" height="120.5"/><text class="t"><tspan x="118" y="1427.5">总之，生活中处处有物理。学生的生活实际是</tspan><tspan x="118" dy="15.33">物理教学的重要资源。在教学中，要充分开采</tspan><tspan x="118" dy="15.33">和利用学生这一重要资源，通过教学活动的开</tspan><tspan x="118" dy="15.33">展，将物理与学生生活融为一体。这样有利于</tspan><tspan x="118" dy="15.33">调动学生求知欲，实现物理教学的通俗化，强</tspan><tspan x="118" dy="15.33">化物理知识的应用性和实践性，进而开拓物理</tspan><tspan x="118" dy="15.33">教学的新境界，提高教学效果。</tspan></text></g>

<g id="b3"><rect class="bl" x="876" y="1601" width="256" height="57"/><text class="tb"><tspan x="884" y="1624.7">初中物理沪科版教学反思随笔记录</tspan><tspan x="884" dy="19.5">3</tspan></text></g>
<g id="n_l3c"><rect class="r" x="601.6" y="1555" width="253.4" height="150"/><text class="t"><tspan x="608.6" y="1572.5">当前物理实验教学中存在的问题：教师一体实</tspan><tspan x="608.6" dy="15.5">验课，学生往往热情高涨，表现出很高的积极</tspan><tspan x="608.6" dy="15.5">性，一旦进入实验室，许多学生急于观察、摆</tspan><tspan x="608.6" dy="15.5">弄器材，甚至动手安装，弱化了教师讲解示范</tspan><tspan x="608.6" dy="15.5">，学生在实验桌旁"议论纷纷"、"摆弄器材"，</tspan><tspan x="608.6" dy="15.5">学生接受的视听信息互相影响，教师对学生实</tspan><tspan x="608.6" dy="15.5">验中的安装技巧、注意事项，对记录的数据如</tspan><tspan x="608.6" dy="15.5">何分析和处理等难以贯彻，大大的降低了教师</tspan><tspan x="608.6" dy="15.5">的的引导作用。</tspan></text></g>

<g id="b5"><rect class="bl" x="876" y="2547" width="256" height="57"/><text class="tb"><tspan x="884" y="2570.7">初中物理沪科版教学反思随笔记录</tspan><tspan x="884" dy="19.5">5</tspan></text></g>
<g id="n_l5a"><rect class="r" x="601.6" y="1732" width="253.4" height="290"/><text class="t"><tspan x="608.6" y="1749.5">对摩擦现象， 学生们有丰富的感性认识。本</tspan><tspan x="608.6" dy="15.5">节课使学生的感性认识上升一步，认识摩擦力</tspan><tspan x="608.6" dy="15.5">的存在和对物体运动的作用;认识决定摩擦力</tspan><tspan x="608.6" dy="15.5">大小的因素;认识摩擦力的利与弊，以及增大</tspan><tspan x="608.6" dy="15.5">和减小磨擦的方法。新课程标准中的对摩擦的</tspan><tspan x="608.6" dy="15.5">表述是"通过常见事例或实验，了解摩擦。"可</tspan><tspan x="608.6" dy="15.5">见，新课程标准和教材给我们的实际教学留下</tspan><tspan x="608.6" dy="15.5">了很大的创造空间，我们要根据学生的实际情</tspan><tspan x="608.6" dy="15.5">况进行教学。本节教学的重点是"探究摩擦力</tspan><tspan x="608.6" dy="15.5">的大小与什么因素有关。"让学生经历科学探</tspan><tspan x="608.6" dy="15.5">究的整个过程，通过猜想学习科学猜想，通过</tspan><tspan x="608.6" dy="15.5">"设计实验"学习控制变量法，学习设计实验表</tspan><tspan x="608.6" dy="15.5">格，通过分析数据学习"分析论证"......学习交</tspan><tspan x="608.6" dy="15.5">流、合作、评估。要让学生在经历探究的过程</tspan><tspan x="608.6" dy="15.5">中，感悟科学探究方法，要把科学探究当做科</tspan><tspan x="608.6" dy="15.5">学内容来学习。以此来提高学生的探究能力，</tspan><tspan x="608.6" dy="15.5">激发学生从身边最平常最一般的事物中探求科</tspan><tspan x="608.6" dy="15.5">学规律的兴趣。</tspan></text></g>
<g id="n_l5b"><rect class="r" x="782" y="2604" width="73" height="27"/><text class="t" x="789" y="2621.5">教学案例：</text></g>
<g id="n_c1"><rect class="r" x="507" y="2049" width="253.5" height="212"/><text class="t"><tspan x="514" y="2066.5">依据"从生活走向物理"的教学理念，从学生的</tspan><tspan x="514" dy="15.5">生活经验出发，提出有关摩擦力的问题，简单</tspan><tspan x="514" dy="15.5">介绍摩擦力的概念之后，提出"摩擦力的大小</tspan><tspan x="514" dy="15.5">与什么因素有关"这个问题，然后引导和组织</tspan><tspan x="514" dy="15.5">学生进行自主探究。根据探究实验的程序帮助</tspan><tspan x="514" dy="15.5">学生完成整个探究过程，在这个探究过程中，</tspan><tspan x="514" dy="15.5">教师强调指出：根据二力平衡的知识，摩擦力</tspan><tspan x="514" dy="15.5">等于弹簧测力计的示数。在这个实验过程中，</tspan><tspan x="514" dy="15.5">通过弹簧测力计拉动木块，在木板上做匀速直</tspan><tspan x="514" dy="15.5">线运动。当学生找出结论之后，教师再提出：</tspan><tspan x="514" dy="15.5">请同学们开动脑筋，利用自己学过的知识，能</tspan><tspan x="514" dy="15.5">不能设计出一种更好、更合理、更准确的测量</tspan><tspan x="514" dy="15.5">方法。</tspan></text></g>
<g id="n_c2"><rect class="r" x="507" y="2287" width="253.5" height="57.5"/><text class="t"><tspan x="514" y="2306">师："影响摩擦力大小的因素"咱们探究出来了</tspan><tspan x="514" dy="15.3">，根据自己操作过程中出现的问题，有谁能指</tspan><tspan x="514" dy="15.3">出咱们实验过程中不太容易操作的地方?</tspan></text></g>
<g id="n_c3"><rect class="r" x="507" y="2372" width="253.5" height="42"/><text class="t"><tspan x="514" y="2390">生：在拉动木块在木板上做匀速直线运动时，</tspan><tspan x="514" dy="15.5">不能保证木块完全做匀速直线运动。</tspan></text></g>
<g id="n_c4"><rect class="r" x="507" y="2440" width="253.5" height="42"/><text class="t"><tspan x="514" y="2458.5">生：有时在木块运动的过程中，弹簧测力计的</tspan><tspan x="514" dy="15.6">示数在变。</tspan></text></g>
<g id="n_c5"><rect class="r" x="507" y="2508" width="253.5" height="44"/><text class="t"><tspan x="514" y="2527.5">生：木块在运动时，有时会被绊住，导致读数</tspan><tspan x="514" dy="15.4">不准确。</tspan></text></g>
<g id="n_c6"><rect class="r" x="507" y="2579" width="253.5" height="57"/><text class="t"><tspan x="514" y="2596">师：那哪一些同学能利用咱们前面学过的知识</tspan><tspan x="514" dy="15.7">来改进这些地方呢?下面分组讨论，看哪一组</tspan><tspan x="514" dy="15.7">能设计出更好、更合理、更准确的测量方法?</tspan></text></g>
<g id="n_c7"><rect class="r" x="676" y="2661.5" width="84.5" height="27.5"/><text class="t" x="683" y="2680">学生分组讨论</text></g>
<g id="n_c8"><rect class="r" x="507" y="2714" width="253.5" height="59"/><text class="t"><tspan x="514" y="2734">生：根据相对运动的原理，咱们可以把弹簧测</tspan><tspan x="514" dy="15.3">力计和木块固定，拉动木板，观察弹簧测力计</tspan><tspan x="514" dy="15.3">的示数。</tspan></text></g>
<g id="n_c9"><rect class="r" x="507" y="2800" width="253.5" height="42"/><text class="t"><tspan x="514" y="2818">师：大家讨论一下这种方案行吗?如果这种方</tspan><tspan x="514" dy="15.5">案好，好在哪里?</tspan></text></g>
<g id="n_c10"><rect class="r" x="700" y="2869" width="60.5" height="27"/><text class="t" x="707" y="2886.5">学生讨论</text></g>
<g id="n_c11"><rect class="r" x="507" y="2921" width="253.5" height="58"/><text class="t"><tspan x="514" y="2940.3">生：这种方案比咱们做实验用的方法好。优点</tspan><tspan x="514" dy="15.1">在如果拉动木板，木块就不会动，弹簧测力计</tspan><tspan x="514" dy="15.1">的示数也比较稳定。</tspan></text></g>
<g id="n_c12"><rect class="r" x="519" y="3006" width="241.5" height="27"/><text class="t" x="526" y="3023.5">生：用这种方法读出的结果更接近真实值。</text></g>
<g id="n_c13"><rect class="r" x="507" y="3059" width="253.5" height="42.6"/><text class="t"><tspan x="514" y="3078">生：而且这种方法还可以得出摩擦力的大小与</tspan><tspan x="514" dy="15.5">木板拉动的速度无关。</tspan></text></g>
<g id="n_l5c"><rect class="r" x="782" y="3260" width="73" height="27"/><text class="t" x="789" y="3277">教学反思：</text></g>
<g id="n_l5cc"><rect class="r" x="507" y="3127" width="253.5" height="291"/><text class="t"><tspan x="514" y="3146.3">通过本节课的教学，使学生再一次完整地体会</tspan><tspan x="514" dy="15.45">探究实验的整个过程，体验探究实验中的快乐</tspan><tspan x="514" dy="15.45">和成就感，提高学生动手操作的能力和分析解</tspan><tspan x="514" dy="15.45">决问题的能力，培养学生对未知事物的探索精</tspan><tspan x="514" dy="15.45">神。最重要的是通过教师的引导，让学生把摩</tspan><tspan x="514" dy="15.45">擦力与前面学过的相对运动有机的结合起来，</tspan><tspan x="514" dy="15.45">找出了更合理、更好的实验方案，真正做到了</tspan><tspan x="514" dy="15.45">学以致用。同时，通过小组每个成员的通力合</tspan><tspan x="514" dy="15.45">作，让学生认识到团结协作精神在学习中的重</tspan><tspan x="514" dy="15.45">要性，为创建和谐校园奠定基础。通过探究实</tspan><tspan x="514" dy="15.45">验，充分挖掘了学生的潜能，培养了学生的创</tspan><tspan x="514" dy="15.45">造能力。通过争论"摩擦好不好"，使学生了解</tspan><tspan x="514" dy="15.45">生活、生产中利用有益摩擦和防止有害摩擦的</tspan><tspan x="514" dy="15.45">事例以及增大和减小摩擦的途径，养成用所学</tspan><tspan x="514" dy="15.45">知识联系生活、生产问题的习惯，加强了物理</tspan><tspan x="514" dy="15.45">与生活、科学技术和社会的联系，从而体现"</tspan><tspan x="514" dy="15.45">从生活走向物理，从物理走向社会"的物理教</tspan><tspan x="514" dy="15.45">学理念。</tspan></text></g>

<g id="b7"><rect class="bl" x="876" y="3901" width="256" height="56"/><text class="tb"><tspan x="884" y="3924.7">初中物理沪科版教学反思随笔记录</tspan><tspan x="884" dy="19.5">7</tspan></text></g>
<g id="n_l7p"><rect class="r" x="601.6" y="3839" width="253.4" height="182"/><text class="t"><tspan x="608.6" y="3857.5">在我读过的书籍中记得，华师大叶澜教授曾说</tspan><tspan x="608.6" dy="15.5">过："一个教师写一辈子教案不必须成为名师</tspan><tspan x="608.6" dy="15.5">，如果一个教师写三年反思则可能成为名师。</tspan><tspan x="608.6" dy="15.5">"由此可见在教学实践中应不断的进行课后总</tspan><tspan x="608.6" dy="15.5">结自我反思，促进自己专业成长，同时也使我</tspan><tspan x="608.6" dy="15.5">们的工作更搞笑和充实课后反思是教师对所授</tspan><tspan x="608.6" dy="15.5">课程的一种补充。好的课后反思能够起到承上</tspan><tspan x="608.6" dy="15.5">启下、画龙点睛之作用，再完美的课堂教学或</tspan><tspan x="608.6" dy="15.5">多或少都会留下这样、那样的缺憾。如何进行</tspan><tspan x="608.6" dy="15.5">课后反思，课后反思要反思什么?从近几年的</tspan><tspan x="608.6" dy="15.5">教学反思中，归纳了几点：</tspan></text></g>
<g id="n_l7_1"><rect class="r" x="484" y="3553" width="94.6" height="26"/><text class="t" x="491" y="3570.5">一、资料的反思</text></g>
<g id="n_l7_1c"><rect class="r" x="208" y="3443" width="253" height="245"/><text class="t"><tspan x="215" y="3463.2">教师的授课必先确定授课的资料是什么，重点</tspan><tspan x="215" dy="15.43">、难点如何把握，时间和资料如何合理的分配</tspan><tspan x="215" dy="15.43">。但在一堂课或一个单元的教学过程中，往往</tspan><tspan x="215" dy="15.43">会出现深度与浅度相差悬殊，师生互动交流并</tspan><tspan x="215" dy="15.43">非融洽，教法与学法相脱节的现象发生。透过</tspan><tspan x="215" dy="15.43">对一堂课或一个单元的课后反思，就能够避免</tspan><tspan x="215" dy="15.43">一些不必要的失误，可对下一知识点的教学产</tspan><tspan x="215" dy="15.43">生催化的作用。如我在讲授九年级"压强和浮</tspan><tspan x="215" dy="15.43">力"一章的资料时，在讲授压强时，透过练习</tspan><tspan x="215" dy="15.43">让学生从中了解密度均匀、高度相同、粗细均</tspan><tspan x="215" dy="15.43">匀的物体在平面上产生的压强与其底面积无关</tspan><tspan x="215" dy="15.43">。这样，在液体压强的教学中，对液体压强的</tspan><tspan x="215" dy="15.43">大小与液体的高度和密度有关，而与液体的多</tspan><tspan x="215" dy="15.43">少无关的认识有了一个铺垫的作用，对液体压</tspan><tspan x="215" dy="15.43">强的计算公式也有了一个说服作用。</tspan></text></g>
<g id="n_l7_2"><rect class="r" x="495" y="3814" width="83.6" height="28.5"/><text class="t" x="502" y="3833.5">二、人的反思</text></g>
<g id="n_l7_2c"><rect class="r" x="220" y="3715" width="252.4" height="228"/><text class="t"><tspan x="227" y="3733.3">教学的本质是师生交往的过程，是师生透过课</tspan><tspan x="227" dy="15.4">堂对话在交往与沟通活动中共同创造好处的过</tspan><tspan x="227" dy="15.4">程。因此，课堂教学的好与差，在很大程度上</tspan><tspan x="227" dy="15.4">取决于参与教学活动的人。教学活动中师生的</tspan><tspan x="227" dy="15.4">主角是否投入，师生的情感交流是否融洽，学</tspan><tspan x="227" dy="15.4">生是否愉快地投入课堂的全过程、是否深切地</tspan><tspan x="227" dy="15.4">感受学习活动的全过程，并升华到自己精神的</tspan><tspan x="227" dy="15.4">需要是检验的标准。在大气压强的教学中，我</tspan><tspan x="227" dy="15.4">先设计了几个问题：你感受到大气压的存在了</tspan><tspan x="227" dy="15.4">吗?你能证实它的存在吗?它的大小受哪些因素</tspan><tspan x="227" dy="15.4">影响呢?使学生自始至终都兴趣盎然，精神饱</tspan><tspan x="227" dy="15.4">满地投入学习，在反思中要回想教师、学生是</tspan><tspan x="227" dy="15.4">否到达教学设计的情感状态，有没有更有效地</tspan><tspan x="227" dy="15.4">途径发展创造精神和创新潜力。</tspan></text></g>
<g id="n_l7_3"><rect class="r" x="484" y="4281" width="94.6" height="27"/><text class="t" x="491" y="4298.5">三、方式的反思</text></g>
<g id="n_l7_3a"><rect class="r" x="208" y="3967" width="253" height="167"/><text class="t"><tspan x="215" y="3985.5">授课方式的反思是反思的重中之重。它包含课</tspan><tspan x="215" dy="15.56">堂环境条件(或是课堂氛围)是否让参与教学活</tspan><tspan x="215" dy="15.56">动的人产生用心向上的情绪是否提高、增强人</tspan><tspan x="215" dy="15.56">的活动潜力，教师激情是否高涨，学生学习热</tspan><tspan x="215" dy="15.56">情是否高亢，怎样样才能创造既有舒适感又有</tspan><tspan x="215" dy="15.56">生活情调的高雅活动场所。同时，资料怎样处</tspan><tspan x="215" dy="15.56">理，顺序如何调节、语言怎样运用，教学手段</tspan><tspan x="215" dy="15.56">如何利用，课堂结构如何布局，学生兴趣怎样</tspan><tspan x="215" dy="15.56">激发，师生互动交流平台怎样构建等都是我们</tspan><tspan x="215" dy="15.56">反思的资料</tspan></text></g>
<g id="n_l7_3b"><rect class="r" x="208" y="4162" width="253" height="58"/><text class="t"><tspan x="215" y="4180.2">此外，物理学科的特点确定了物理教学有别于</tspan><tspan x="215" dy="15.4">其他学科。重视物理作业的多元化及时段性也</tspan><tspan x="215" dy="15.4">是我们要注意的资料之一。</tspan></text></g>
<g id="n_l7_3c"><rect class="r" x="208" y="4246" width="253" height="224"/><text class="t"><tspan x="215" y="4264.5">物理作业是多元化的，有计算型、简答型的练</tspan><tspan x="215" dy="15.4">习，有探究实验及实验报告，有资料查询、有</tspan><tspan x="215" dy="15.4">调查报告等等。无论是教师，还是学生都比较</tspan><tspan x="215" dy="15.4">重视传统型的习题练习，较忽略探究实验、调</tspan><tspan x="215" dy="15.4">查报告等等。这几年的物理中考中有超多的文</tspan><tspan x="215" dy="15.4">字表述题，很多老师头痛学生的表述潜力太差</tspan><tspan x="215" dy="15.4">。因此，教学中教师惟恐学生说不好，所有问</tspan><tspan x="215" dy="15.4">题的答案都由老师代替。其实，你越是不放心</tspan><tspan x="215" dy="15.4">，不给他们锻炼的机会，这类作业他们越作不</tspan><tspan x="215" dy="15.4">好。能够说是对症下药是良方，这类作业的布</tspan><tspan x="215" dy="15.4">置需注意时段性，相应的物理规律学习后，及</tspan><tspan x="215" dy="15.4">时的布置这类作业，然后立即让学生口述，对</tspan><tspan x="215" dy="15.4">于表达好的表扬，对于差的多鼓励，让他们在</tspan></text></g>
</g>
</svg>
